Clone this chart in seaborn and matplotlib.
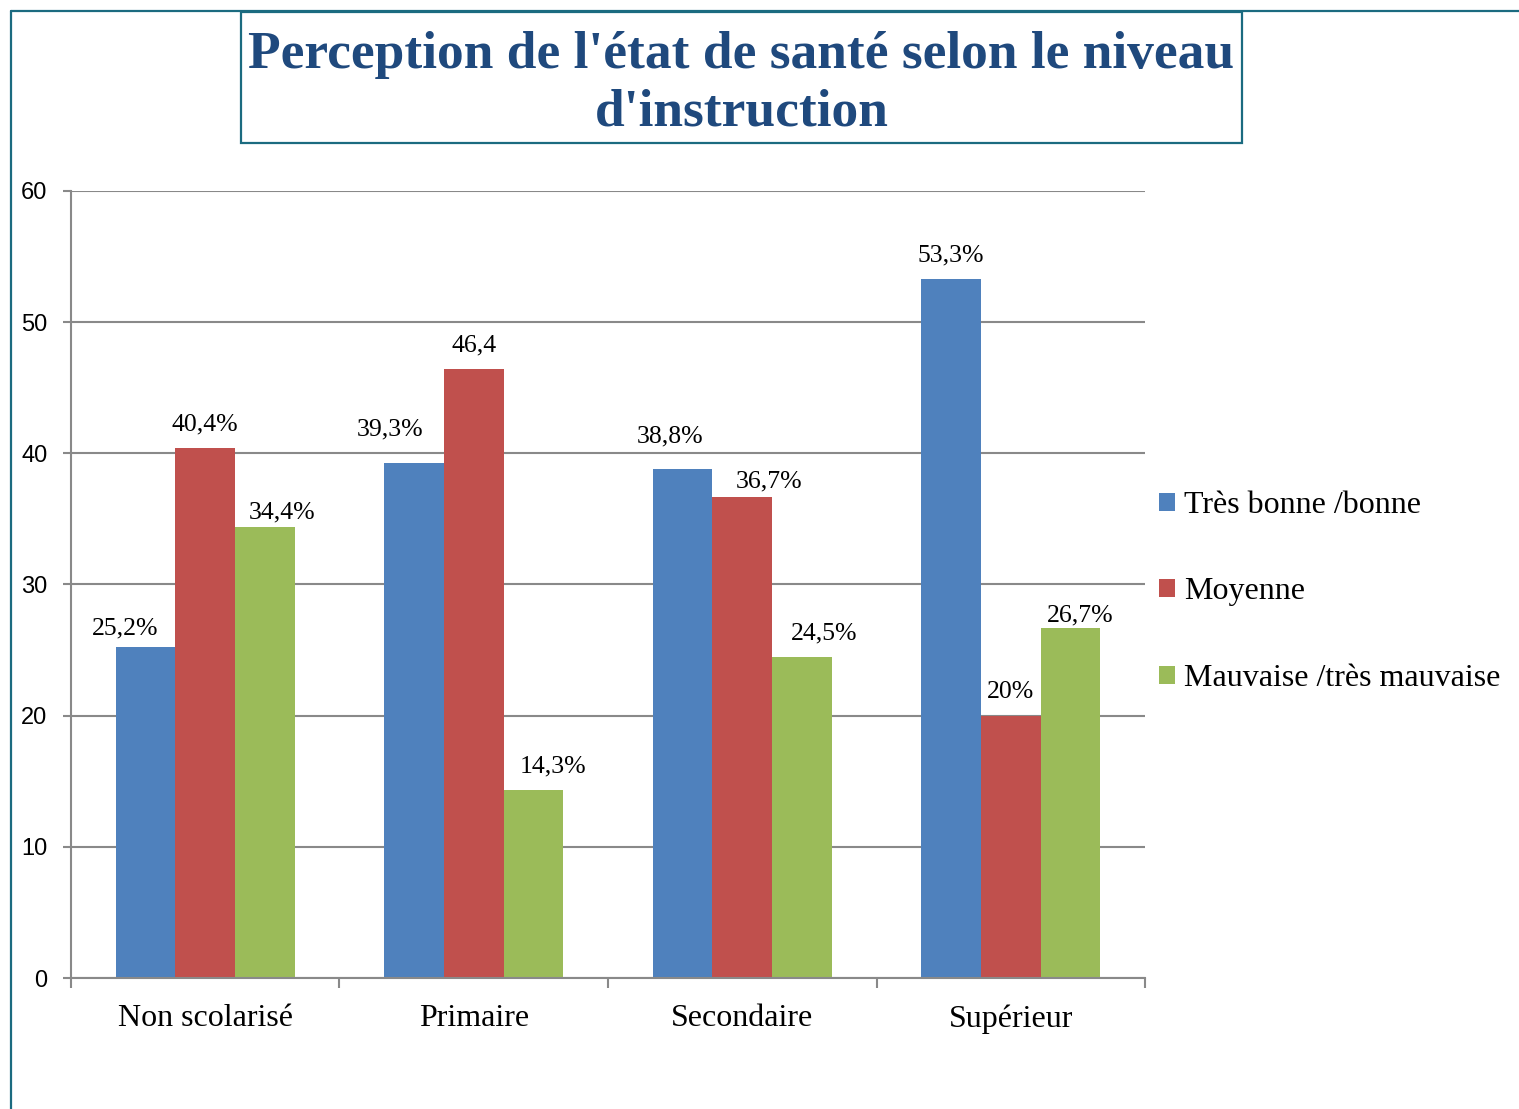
"""
Perception de l'état de santé selon le niveau d'instruction
-----------------------------------------------------------

Grouped bar chart, one group per education level, one bar per health perception.
"""

import matplotlib
matplotlib.use("Agg")
import matplotlib.pyplot as plt
import pandas as pd
import seaborn as sns
from matplotlib.lines import Line2D
from matplotlib.patches import Rectangle

# Data
categories = ["Non scolarisé", "Primaire", "Secondaire", "Supérieur"]
series = ["Très bonne /bonne", "Moyenne", "Mauvaise /très mauvaise"]
tres_bonne = [25.2, 39.3, 38.8, 53.3]
moyenne = [40.4, 46.4, 36.7, 20.0]
mauvaise = [34.4, 14.3, 24.5, 26.7]
labels_tres_bonne = ["25,2%", "39,3%", "38,8%", "53,3%"]
labels_moyenne = ["40,4%", "46,4", "36,7%", "20%"]
labels_mauvaise = ["34,4%", "14,3%", "24,5%", "26,7%"]
y_ticks = [0, 10, 20, 30, 40, 50, 60]

colors = ["#4F81BD", "#C0504D", "#9BBB59"]
# offsets (points) of the value labels, as Excel placed them in the original
label_offsets = [
    [(-15, 6), (-17, 16), (-9, 15.5), (0, 9)],
    [(0, 9), (0, 9), (19, 3.2), (0, 9)],
    [(12, 2.5), (14, 9), (16, 9), (7, 1)],
]

rows = []
for name, values in zip(series, [tres_bonne, moyenne, mauvaise]):
    for cat, v in zip(categories, values):
        rows.append([cat, name, v])
df = pd.DataFrame(rows, columns=["niveau", "perception", "pourcentage"])

sns.set_style("white")
plt.rcParams["font.family"] = ["Liberation Serif", "DejaVu Serif"]
plt.rcParams["text.color"] = "black"
plt.rcParams["xtick.labelcolor"] = "black"
plt.rcParams["ytick.labelcolor"] = "black"

fig = plt.figure(figsize=(15.19, 11.09), dpi=100)
ax = fig.add_axes([0.0467, 0.1181, 0.7071, 0.7097])

sns.barplot(
    data=df,
    x="niveau",
    y="pourcentage",
    hue="perception",
    hue_order=series,
    order=categories,
    palette=colors,
    saturation=1,
    width=0.667,
    linewidth=0,
    ax=ax,
    legend=True,
)

# value labels
all_labels = [labels_tres_bonne, labels_moyenne, labels_mauvaise]
for container, labels, offsets in zip(ax.containers, all_labels, label_offsets):
    anns = ax.bar_label(container, labels=labels, padding=9, fontsize=18.5,
                        color="black")
    for ann, off in zip(anns, offsets):
        ann.xyann = off

# axes styling
gray = "#898989"
ax.set_ylim(0, 60)
ax.set_xlim(-0.5, 3.5)
ax.set_yticks(y_ticks)
ax.set_yticklabels([str(t) for t in y_ticks], family="Liberation Sans",
                   fontsize=17, color="black")
ax.set_xticks(range(len(categories)))
ax.set_xticklabels(categories, fontsize=23, color="black")
ax.set_xticks([i - 0.5 for i in range(len(categories) + 1)], minor=True)
ax.tick_params(axis="x", which="major", length=0, pad=19)
ax.tick_params(axis="x", which="minor", length=7, width=1.5, color=gray,
               direction="out", bottom=True)
ax.tick_params(axis="y", length=6, width=1.5, color=gray, pad=11, left=True,
               direction="out")
ax.yaxis.grid(True, color=gray, linewidth=1.5)
ax.set_axisbelow(True)
for side in ["top", "right"]:
    ax.spines[side].set_visible(False)
for side in ["left", "bottom"]:
    ax.spines[side].set_color(gray)
    ax.spines[side].set_linewidth(1.5)
ax.set_xlabel("")
ax.set_ylabel("")

# legend on the right
handles, labels = ax.get_legend_handles_labels()
ax.get_legend().remove()
leg = fig.legend(
    handles, labels,
    loc="center left",
    bbox_to_anchor=(1130 / 1519, 1 - 592 / 1109),
    frameon=False,
    fontsize=23,
    handlelength=0.5,
    handleheight=0.5,
    handletextpad=0.3,
    labelspacing=1.8,
)
for t in leg.get_texts():
    t.set_color("black")

# frame and title box
teal = "#1B6B80"
fig.add_artist(Line2D([11 / 1519, 1], [0.990, 0.990], color=teal, lw=1.6,
                      transform=fig.transFigure))
fig.add_artist(Line2D([11 / 1519, 11 / 1519], [0, 0.990], color=teal, lw=1.6,
                      transform=fig.transFigure))
fig.add_artist(Rectangle((241 / 1519, 1 - 143 / 1109), 1001 / 1519, 131 / 1109,
                         fill=False, edgecolor=teal, lw=1.6,
                         transform=fig.transFigure))
fig.text(741.5 / 1519, 1 - 84 / 1109,
         "Perception de l'état de santé selon le niveau\nd'instruction",
         ha="center", va="center", fontsize=38.5, fontweight="bold",
         color="#1F497D", linespacing=1.25)

plt.savefig("out.png", dpi=100)
plt.close()
